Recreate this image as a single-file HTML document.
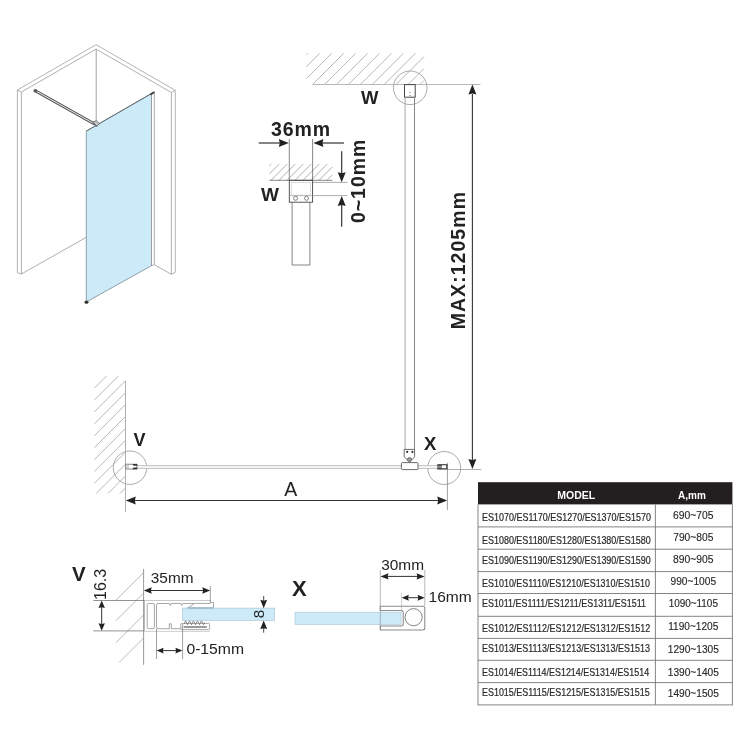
<!DOCTYPE html>
<html><head><meta charset="utf-8"><title>Walk-in shower installation</title>
<style>
html,body{margin:0;padding:0;background:#fff;width:750px;height:750px;overflow:hidden;}
svg{display:block;will-change:transform;}
text{font-family:"Liberation Sans",sans-serif;}
</style></head><body>
<svg width="750" height="750" viewBox="0 0 750 750">
<rect width="750" height="750" fill="#fff"/>
<g fill="none" stroke-linejoin="miter">
<polygon points="86.3,131.1 151.5,93.5 151.5,265.7 86.3,302" fill="#cdeaf9" stroke="#7a8a92" stroke-width="0.8"/>
<polyline points="17.4,272.7 17.4,90 96.1,44.7 175.3,90.4 175.3,272.3" stroke="#b4b4b4" stroke-width="1"/>
<polyline points="21.4,274 21.4,92 96.1,49.1 171.4,92.5 171.4,274.3" stroke="#b0b1ab" stroke-width="1"/>
<line x1="17.4" y1="90" x2="21.4" y2="92" stroke="#999" stroke-width="0.8"/>
<line x1="175.3" y1="90.4" x2="171.3" y2="92.5" stroke="#999" stroke-width="0.8"/>
<line x1="17.4" y1="272.7" x2="21.4" y2="274" stroke="#999" stroke-width="0.8"/>
<line x1="175.3" y1="272.3" x2="171.3" y2="274.3" stroke="#999" stroke-width="0.8"/>
<line x1="96.2" y1="49.1" x2="96.2" y2="123" stroke="#999" stroke-width="0.9"/>
<line x1="21.4" y1="274" x2="86.3" y2="237.3" stroke="#999" stroke-width="0.8"/>
<line x1="154.3" y1="264.7" x2="171.3" y2="274.3" stroke="#999" stroke-width="0.8"/>
<polygon points="151.5,93 154.3,91.5 154.3,264.7 151.5,265.7" fill="#fff" stroke="#888" stroke-width="0.7"/>
<line x1="86.3" y1="131.1" x2="151.5" y2="93.5" stroke="#5e6266" stroke-width="0.9"/>
<polygon points="149.6,94.2 153.6,91.6 154.9,92.8 151.2,95.3" fill="#3e3e40"/>
<line x1="35.3" y1="90.7" x2="94.5" y2="124" stroke="#555" stroke-width="3"/>
<line x1="35.3" y1="90.7" x2="94.5" y2="124" stroke="#eee" stroke-width="1"/>
<circle cx="35.3" cy="90.7" r="1.8" fill="#555"/>
<polygon points="92.6,122.3 96.3,120.6 99.6,123.6 96.2,126.8" fill="#c8c8cc" stroke="#4a4a4e" stroke-width="0.7"/><line x1="93.5" y1="122.6" x2="96.6" y2="126" stroke="#444" stroke-width="0.8"/>
<ellipse cx="86.5" cy="302.2" rx="2" ry="1.6" fill="#333"/>
</g>
<g stroke="#9c9ca0" stroke-width="0.8"><line x1="269.40" y1="165.90" x2="271.30" y2="164.00"/><line x1="269.40" y1="173.90" x2="279.30" y2="164.00"/><line x1="271.00" y1="180.30" x2="287.30" y2="164.00"/><line x1="279.00" y1="180.30" x2="295.30" y2="164.00"/><line x1="287.00" y1="180.30" x2="303.30" y2="164.00"/><line x1="295.00" y1="180.30" x2="311.30" y2="164.00"/><line x1="303.00" y1="180.30" x2="319.30" y2="164.00"/><line x1="311.00" y1="180.30" x2="327.30" y2="164.00"/><line x1="319.00" y1="180.30" x2="332.30" y2="167.00"/><line x1="327.00" y1="180.30" x2="332.30" y2="175.00"/></g>
<g stroke="#555" stroke-width="0.7" fill="none">
<line x1="269.4" y1="180.3" x2="332.3" y2="180.3"/>
<line x1="289.3" y1="139" x2="289.3" y2="180.3"/>
<line x1="312.6" y1="139" x2="312.6" y2="180.3"/>
<line x1="312.6" y1="182.4" x2="347.3" y2="182.4" stroke="#888"/>
<line x1="312.6" y1="195.6" x2="347.3" y2="195.6" stroke="#888"/>
</g>
<rect x="289.3" y="180.3" width="23.3" height="21.9" fill="none" stroke="#444" stroke-width="0.9"/>
<rect x="291.3" y="182.5" width="19.3" height="12.8" fill="none" stroke="#888" stroke-width="0.6" stroke-dasharray="1,1"/>
<line x1="289.3" y1="195.6" x2="312.6" y2="195.6" stroke="#999" stroke-width="0.6"/>
<circle cx="295.5" cy="198.3" r="2" fill="#fff" stroke="#555" stroke-width="0.7"/>
<circle cx="306.5" cy="198.3" r="2" fill="#fff" stroke="#555" stroke-width="0.7"/>
<line x1="292.1" y1="202.2" x2="292.1" y2="265" stroke="#666" stroke-width="0.8"/>
<line x1="309.9" y1="202.2" x2="309.9" y2="265" stroke="#666" stroke-width="0.8"/>
<line x1="292.1" y1="265" x2="309.9" y2="265" stroke="#666" stroke-width="0.8"/>
<line x1="258.7" y1="143" x2="280" y2="143" stroke="#333" stroke-width="1.2"/>
<polygon points="288.80,143.00 278.80,147.00 279.80,143.00 278.80,139.00" fill="#222"/>
<line x1="322" y1="143" x2="344" y2="143" stroke="#333" stroke-width="1.2"/>
<polygon points="313.40,143.00 323.40,139.00 322.40,143.00 323.40,147.00" fill="#222"/>
<line x1="341.7" y1="151.3" x2="341.7" y2="174" stroke="#333" stroke-width="1.2"/>
<polygon points="341.70,182.20 337.70,172.20 341.70,173.20 345.70,172.20" fill="#222"/>
<line x1="341.7" y1="204" x2="341.7" y2="226.7" stroke="#333" stroke-width="1.2"/>
<polygon points="341.70,196.00 345.70,206.00 341.70,205.00 337.70,206.00" fill="#222"/>
<text x="271" y="136.3" font-size="19.5" font-weight="bold" fill="#222" textLength="59" lengthAdjust="spacing">36mm</text>
<text x="260.9" y="201" font-size="19" font-weight="bold" fill="#222">W</text>
<text transform="translate(365,223) rotate(-90)" font-size="19.5" font-weight="bold" fill="#222" textLength="83.3" lengthAdjust="spacing">0~10mm</text>
<g stroke="#b0b0b4" stroke-width="0.9"><line x1="306.40" y1="54.80" x2="307.90" y2="53.30"/><line x1="306.40" y1="66.74" x2="319.84" y2="53.30"/><line x1="306.40" y1="78.68" x2="331.78" y2="53.30"/><line x1="312.52" y1="84.50" x2="343.72" y2="53.30"/><line x1="324.46" y1="84.50" x2="355.66" y2="53.30"/><line x1="336.40" y1="84.50" x2="367.60" y2="53.30"/><line x1="348.34" y1="84.50" x2="379.54" y2="53.30"/><line x1="360.28" y1="84.50" x2="391.48" y2="53.30"/><line x1="372.22" y1="84.50" x2="403.42" y2="53.30"/><line x1="384.16" y1="84.50" x2="415.36" y2="53.30"/><line x1="396.10" y1="84.50" x2="424.00" y2="56.60"/><line x1="408.04" y1="84.50" x2="424.00" y2="68.54"/><line x1="419.98" y1="84.50" x2="424.00" y2="80.48"/></g>
<line x1="313" y1="84.5" x2="480.5" y2="84.5" stroke="#b0b0b4" stroke-width="0.9"/>
<circle cx="410.2" cy="87.8" r="16.8" fill="none" stroke="#a0a0a4" stroke-width="0.9"/>
<rect x="404.5" y="84.6" width="10.7" height="12.6" fill="#fff" stroke="#444" stroke-width="1"/>
<circle cx="410" cy="92.3" r="0.6" fill="#666"/><circle cx="410" cy="95.5" r="0.6" fill="#666"/>
<line x1="405.1" y1="97.2" x2="405.1" y2="449.4" stroke="#a8a8ac" stroke-width="1"/>
<line x1="414.5" y1="97.2" x2="414.5" y2="449.4" stroke="#86868a" stroke-width="1"/>
<text x="361" y="103.7" font-size="18.5" font-weight="bold" fill="#222">W</text>
<line x1="472.4" y1="94" x2="472.4" y2="460" stroke="#333" stroke-width="1.1"/>
<polygon points="472.40,84.50 476.40,94.50 472.40,93.50 468.40,94.50" fill="#222"/>
<polygon points="472.40,469.00 468.40,459.00 472.40,460.00 476.40,459.00" fill="#222"/>
<line x1="447.4" y1="469.5" x2="481.2" y2="469.5" stroke="#9a9a9e" stroke-width="0.8"/>
<text transform="translate(465.2,329.3) rotate(-90)" font-size="19.5" font-weight="bold" fill="#222" textLength="137.3" lengthAdjust="spacing">MAX:1205mm</text>
<g stroke="#b0b0b4" stroke-width="0.9"><line x1="94.30" y1="376.30" x2="94.50" y2="376.10"/><line x1="94.30" y1="388.20" x2="106.40" y2="376.10"/><line x1="94.30" y1="400.10" x2="118.30" y2="376.10"/><line x1="94.30" y1="412.00" x2="125.30" y2="381.00"/><line x1="94.30" y1="423.90" x2="125.30" y2="392.90"/><line x1="94.30" y1="435.80" x2="125.30" y2="404.80"/><line x1="94.30" y1="447.70" x2="125.30" y2="416.70"/><line x1="94.30" y1="459.60" x2="125.30" y2="428.60"/><line x1="94.30" y1="471.50" x2="125.30" y2="440.50"/><line x1="94.30" y1="483.40" x2="125.30" y2="452.40"/><line x1="96.00" y1="493.60" x2="125.30" y2="464.30"/><line x1="107.90" y1="493.60" x2="125.30" y2="476.20"/><line x1="119.80" y1="493.60" x2="125.30" y2="488.10"/></g>
<line x1="125.5" y1="380.7" x2="125.5" y2="512" stroke="#b0b0b4" stroke-width="1"/>
<circle cx="130" cy="467.7" r="16.7" fill="none" stroke="#a0a0a4" stroke-width="0.9"/>
<circle cx="444.2" cy="468" r="16.5" fill="none" stroke="#a0a0a4" stroke-width="0.9"/>
<rect x="125.6" y="465.4" width="312" height="3.1" fill="#f3f3f5" stroke="#bcbcc0" stroke-width="0.8"/>
<rect x="125.6" y="464.2" width="11.3" height="4.8" fill="#fff" stroke="#666" stroke-width="0.8"/>
<rect x="125.8" y="464.6" width="2.4" height="4" fill="#d4d4d8" stroke="#999" stroke-width="0.4"/>
<path d="M132.3,463.9 L137.2,463.9 L137.2,465.7 L133.6,465.7 Z" fill="#333"/>
<path d="M132.3,469.3 L137.2,469.3 L137.2,467.5 L133.6,467.5 Z" fill="#333"/>
<path d="M404.2,449.4 L414.6,449.4 L414.6,456.8 L412.2,459.6 L407,459.6 L404.2,456.8 Z" fill="#fff" stroke="#5a5a5e" stroke-width="0.9"/>
<circle cx="407.2" cy="451.9" r="1.1" fill="#333"/><circle cx="412.4" cy="451.9" r="1.1" fill="#333"/>
<circle cx="409.5" cy="459.6" r="2.1" fill="#999" stroke="#444" stroke-width="0.6"/>
<rect x="401.4" y="462.6" width="16.6" height="7" rx="1" fill="#fff" stroke="#5a5a5e" stroke-width="0.9"/>
<rect x="437.3" y="464.1" width="10.5" height="5.5" fill="#4a4a4e"/>
<rect x="441.8" y="465.3" width="4.3" height="2.9" fill="#fff"/>
<rect x="437.3" y="466.5" width="4.6" height="0.8" fill="#ddd"/>
<line x1="447.4" y1="462.8" x2="447.4" y2="510" stroke="#777" stroke-width="0.7"/>
<line x1="134" y1="500.5" x2="440" y2="500.5" stroke="#333" stroke-width="1.2"/>
<polygon points="125.80,500.50 135.80,496.50 134.80,500.50 135.80,504.50" fill="#222"/>
<polygon points="447.20,500.50 437.20,504.50 438.20,500.50 437.20,496.50" fill="#222"/>
<text x="284.3" y="496" font-size="19.5" fill="#222">A</text>
<text x="133.6" y="446" font-size="18" font-weight="bold" fill="#222">V</text>
<text x="424" y="449.6" font-size="18.5" font-weight="bold" fill="#222">X</text>
<g stroke="#a8a8ac" stroke-width="0.8"><line x1="116.00" y1="600.20" x2="143.60" y2="572.60"/><line x1="116.00" y1="620.60" x2="143.60" y2="593.00"/><line x1="116.00" y1="642.60" x2="143.60" y2="615.00"/><line x1="119.10" y1="662.50" x2="143.60" y2="638.00"/></g>
<line x1="143.6" y1="568.8" x2="143.6" y2="664.8" stroke="#8c8c90" stroke-width="0.9"/>
<line x1="93.3" y1="600.5" x2="210.4" y2="600.5" stroke="#777" stroke-width="0.8"/>
<line x1="93.3" y1="630.9" x2="210" y2="630.9" stroke="#777" stroke-width="0.8"/>
<rect x="144.4" y="600.5" width="66" height="30.4" fill="#fff"/>
<line x1="144.3" y1="601" x2="144.3" y2="630.5" stroke="#aaa" stroke-width="1"/>
<g fill="#fff" stroke="#8a8a8a" stroke-width="0.75">
<rect x="147.2" y="603.5" width="7.2" height="25.2" rx="1.2"/>
<path d="M182.6,628.7 L171.3,628.7 L171.3,623.8 L169.3,623.8 L169.3,628.7 L158,628.7 Q156.5,628.7 156.5,627.2 L156.5,605 Q156.5,603.5 158,603.5 L169.3,603.5 L170.3,605.6 L171.3,603.5 L180.7,603.5 L181.7,605.6 L182.7,603.5 L194.5,603.5"/>
<path d="M194.5,603.4 L210.2,603.4 L210.2,602.4 L213.5,602.4 L213.5,608.3 L187.2,608.3 Z"/>
<rect x="180.8" y="623.4" width="28.8" height="6.2" rx="1"/>
</g>
<rect x="187.5" y="607.2" width="25.8" height="1.9" fill="#9db5c2"/>
<rect x="183.5" y="626" width="23.5" height="2" rx="0.8" fill="#9a9a9a"/>
<polyline points="184.5,624 185.5,620.6 187.5,624.8 189.5,620.6 191.5,624.8 193.5,620.6 195.5,624.8 197.5,620.6 199.5,624.8 201.5,620.6 203.5,624.8 204.5,622.5" fill="none" stroke="#666" stroke-width="0.7"/>
<rect x="182.4" y="608.1" width="92.3" height="12.3" fill="#cdeaf9" stroke="#a9c2cf" stroke-width="0.6"/>
<rect x="187.5" y="607.3" width="26" height="1.8" fill="#a6c0cd"/>
<line x1="156.5" y1="628.7" x2="156.5" y2="659" stroke="#777" stroke-width="0.7"/>
<line x1="182.6" y1="624" x2="182.6" y2="659" stroke="#777" stroke-width="0.7"/>
<line x1="210.3" y1="585.8" x2="210.3" y2="602.4" stroke="#777" stroke-width="0.7"/>
<line x1="150" y1="590.5" x2="204" y2="590.5" stroke="#333" stroke-width="1"/>
<polygon points="143.80,590.50 151.70,587.25 150.91,590.50 151.70,593.75" fill="#222"/>
<polygon points="210.20,590.50 202.30,593.75 203.09,590.50 202.30,587.25" fill="#222"/>
<line x1="162" y1="650.6" x2="176" y2="650.6" stroke="#333" stroke-width="1"/>
<polygon points="156.60,650.60 163.60,647.70 162.90,650.60 163.60,653.50" fill="#222"/>
<polygon points="182.40,650.60 175.40,653.50 176.10,650.60 175.40,647.70" fill="#222"/>
<line x1="101.7" y1="607" x2="101.7" y2="624.5" stroke="#333" stroke-width="1"/>
<polygon points="101.70,600.60 104.90,608.10 101.70,607.35 98.50,608.10" fill="#222"/>
<polygon points="101.70,630.80 98.50,623.30 101.70,624.05 104.90,623.30" fill="#222"/>
<line x1="263.7" y1="596" x2="263.7" y2="602" stroke="#333" stroke-width="0.9"/>
<polygon points="263.70,608.20 260.25,599.80 263.70,600.64 267.15,599.80" fill="#222"/>
<line x1="263.7" y1="626" x2="263.7" y2="632.7" stroke="#333" stroke-width="0.9"/>
<polygon points="263.70,620.60 267.15,629.00 263.70,628.16 260.25,629.00" fill="#222"/>
<text x="72" y="581" font-size="20.5" font-weight="bold" fill="#222">V</text>
<text transform="translate(106.3,600) rotate(-90)" font-size="16" fill="#222">16.3</text>
<text x="150.8" y="583.4" font-size="14" fill="#222" textLength="42.7" lengthAdjust="spacingAndGlyphs">35mm</text>
<text x="186.4" y="653.8" font-size="14" fill="#222" textLength="57.7" lengthAdjust="spacingAndGlyphs">0-15mm</text>
<text transform="translate(264,618.3) rotate(-90)" font-size="15.3" fill="#222">8</text>
<text x="292" y="596" font-size="22" font-weight="bold" fill="#222">X</text>
<rect x="295" y="612.2" width="106" height="12.2" fill="#cdeaf9" stroke="#a9c2cf" stroke-width="0.6"/>
<path d="M380.3,606.3 L422.8,606.3 Q424.8,606.3 424.8,608.3 L424.8,628 Q424.8,630 422.8,630 L380.3,630 L380.3,626 L401.2,626 Q403.2,626 403.2,624 L403.2,612.5 Q403.2,610.5 401.2,610.5 L380.3,610.5 Z" fill="#fff" stroke="#8a8a8e" stroke-width="1.05"/>
<circle cx="413.6" cy="617.2" r="8.6" fill="#fff" stroke="#666" stroke-width="0.8"/>
<line x1="380.3" y1="570" x2="380.3" y2="630" stroke="#888" stroke-width="0.6"/>
<line x1="424.8" y1="570" x2="424.8" y2="606" stroke="#888" stroke-width="0.6"/>
<line x1="401.6" y1="593.2" x2="401.6" y2="612" stroke="#aaa" stroke-width="0.6"/>
<line x1="387" y1="576.4" x2="418" y2="576.4" stroke="#333" stroke-width="1"/>
<polygon points="380.50,576.40 388.50,573.20 387.70,576.40 388.50,579.60" fill="#222"/>
<polygon points="424.60,576.40 416.60,579.60 417.40,576.40 416.60,573.20" fill="#222"/>
<line x1="407" y1="597.7" x2="419" y2="597.7" stroke="#333" stroke-width="1"/>
<polygon points="401.80,597.70 408.80,594.70 408.10,597.70 408.80,600.70" fill="#222"/>
<polygon points="424.60,597.70 417.60,600.70 418.30,597.70 417.60,594.70" fill="#222"/>
<text x="381.2" y="570" font-size="14" fill="#222" textLength="42.9" lengthAdjust="spacingAndGlyphs">30mm</text>
<text x="428.5" y="602.3" font-size="14" fill="#222" textLength="43.2" lengthAdjust="spacingAndGlyphs">16mm</text>
<rect x="478" y="482.2" width="254.39999999999998" height="22.2" fill="#231f20"/>
<text x="576.3" y="499" font-size="10.5" font-weight="bold" fill="#fff" text-anchor="middle">MODEL</text>
<text x="691.9" y="498.8" font-size="10" font-weight="bold" fill="#fff" text-anchor="middle">A,mm</text>
<g stroke="#777" stroke-width="0.9" fill="none">
<line x1="478" y1="504.4" x2="478" y2="705.3"/>
<line x1="732.4" y1="504.4" x2="732.4" y2="705.3"/>
<line x1="655.4" y1="504.4" x2="655.4" y2="704.9"/>
<line x1="478" y1="526.9" x2="732.4" y2="526.9"/>
<line x1="478" y1="549.2" x2="732.4" y2="549.2"/>
<line x1="478" y1="571.6" x2="732.4" y2="571.6"/>
<line x1="478" y1="593.5" x2="732.4" y2="593.5"/>
<line x1="478" y1="616.3" x2="732.4" y2="616.3"/>
<line x1="478" y1="638.4" x2="732.4" y2="638.4"/>
<line x1="478" y1="660.3" x2="732.4" y2="660.3"/>
<line x1="478" y1="682.6" x2="732.4" y2="682.6"/>
<line x1="478" y1="704.9" x2="732.4" y2="704.9"/>
</g>
<text x="482.0" y="521.4" font-size="10.5" fill="#2a2a2a" stroke="#2a2a2a" stroke-width="0.22" textLength="169.00" lengthAdjust="spacingAndGlyphs">ES1070/ES1170/ES1270/ES1370/ES1570</text>
<text x="673.05" y="519.1" font-size="10.6" fill="#2a2a2a" stroke="#2a2a2a" stroke-width="0.15" textLength="40.50" lengthAdjust="spacingAndGlyphs">690~705</text>
<text x="482.0" y="543.7" font-size="10.5" fill="#2a2a2a" stroke="#2a2a2a" stroke-width="0.22" textLength="168.70" lengthAdjust="spacingAndGlyphs">ES1080/ES1180/ES1280/ES1380/ES1580</text>
<text x="673.25" y="541.1" font-size="10.6" fill="#2a2a2a" stroke="#2a2a2a" stroke-width="0.15" textLength="40.10" lengthAdjust="spacingAndGlyphs">790~805</text>
<text x="482.0" y="564" font-size="10.5" fill="#2a2a2a" stroke="#2a2a2a" stroke-width="0.22" textLength="168.70" lengthAdjust="spacingAndGlyphs">ES1090/ES1190/ES1290/ES1390/ES1590</text>
<text x="673.10" y="563.4" font-size="10.6" fill="#2a2a2a" stroke="#2a2a2a" stroke-width="0.15" textLength="40.40" lengthAdjust="spacingAndGlyphs">890~905</text>
<text x="482.0" y="586.9" font-size="10.5" fill="#2a2a2a" stroke="#2a2a2a" stroke-width="0.22" textLength="167.90" lengthAdjust="spacingAndGlyphs">ES1010/ES1110/ES1210/ES1310/ES1510</text>
<text x="670.50" y="585.2" font-size="10.6" fill="#2a2a2a" stroke="#2a2a2a" stroke-width="0.15" textLength="45.60" lengthAdjust="spacingAndGlyphs">990~1005</text>
<text x="482.0" y="607.3" font-size="10.5" fill="#2a2a2a" stroke="#2a2a2a" stroke-width="0.22" textLength="163.90" lengthAdjust="spacingAndGlyphs">ES1011/ES1111/ES1211/ES1311/ES1511</text>
<text x="668.65" y="606.8" font-size="10.6" fill="#2a2a2a" stroke="#2a2a2a" stroke-width="0.15" textLength="49.30" lengthAdjust="spacingAndGlyphs">1090~1105</text>
<text x="482.0" y="631.6" font-size="10.5" fill="#2a2a2a" stroke="#2a2a2a" stroke-width="0.22" textLength="168.20" lengthAdjust="spacingAndGlyphs">ES1012/ES1112/ES1212/ES1312/ES1512</text>
<text x="668.25" y="630.1" font-size="10.6" fill="#2a2a2a" stroke="#2a2a2a" stroke-width="0.15" textLength="50.10" lengthAdjust="spacingAndGlyphs">1190~1205</text>
<text x="482.0" y="651.6" font-size="10.5" fill="#2a2a2a" stroke="#2a2a2a" stroke-width="0.22" textLength="167.90" lengthAdjust="spacingAndGlyphs">ES1013/ES1113/ES1213/ES1313/ES1513</text>
<text x="667.75" y="652.5" font-size="10.6" fill="#2a2a2a" stroke="#2a2a2a" stroke-width="0.15" textLength="51.10" lengthAdjust="spacingAndGlyphs">1290~1305</text>
<text x="482.0" y="675.9" font-size="10.5" fill="#2a2a2a" stroke="#2a2a2a" stroke-width="0.22" textLength="167.10" lengthAdjust="spacingAndGlyphs">ES1014/ES1114/ES1214/ES1314/ES1514</text>
<text x="667.75" y="675.5" font-size="10.6" fill="#2a2a2a" stroke="#2a2a2a" stroke-width="0.15" textLength="51.10" lengthAdjust="spacingAndGlyphs">1390~1405</text>
<text x="482.0" y="695.6" font-size="10.5" fill="#2a2a2a" stroke="#2a2a2a" stroke-width="0.22" textLength="167.60" lengthAdjust="spacingAndGlyphs">ES1015/ES1115/ES1215/ES1315/ES1515</text>
<text x="667.75" y="697.1" font-size="10.6" fill="#2a2a2a" stroke="#2a2a2a" stroke-width="0.15" textLength="51.10" lengthAdjust="spacingAndGlyphs">1490~1505</text>
</svg></body></html>
